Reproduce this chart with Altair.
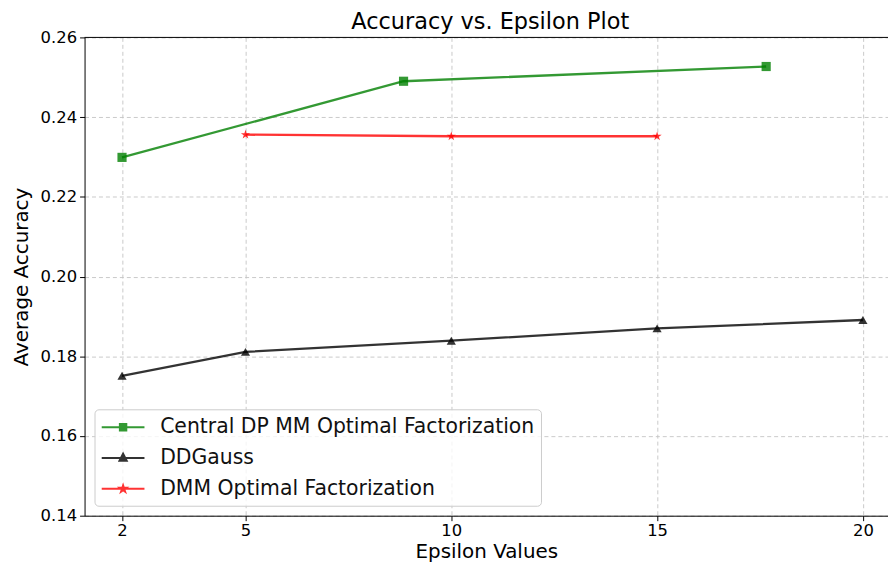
import altair as alt
import pandas as pd

# ---- data ----
series_names = ["Central DP MM Optimal Factorization", "DDGauss", "DMM Optimal Factorization"]
central_eps = [2, 8.84, 17.65]
central_acc = [0.2299, 0.2490, 0.2527]
ddg_eps = [2, 5, 10, 15, 20]
ddg_acc = [0.1751, 0.1811, 0.1839, 0.1870, 0.1891]
dmm_eps = [5, 10, 15]
dmm_acc = [0.2356, 0.2352, 0.2352]
x_ticks = [2, 5, 10, 15, 20]
y_ticks = [0.14, 0.16, 0.18, 0.20, 0.22, 0.24, 0.26]

rows = []
for name, xs, ys in zip(series_names, [central_eps, ddg_eps, dmm_eps], [central_acc, ddg_acc, dmm_acc]):
    for x, y in zip(xs, ys):
        rows.append({"eps": x, "acc": y, "series": name})
df = pd.DataFrame(rows)

line_colors = ["#008000", "#000000", "#ff0000"]
legend_colors = ["#339933", "#333333", "#ff3333"]

W, H = 808, 481

x_enc = alt.X("eps:Q", title="Epsilon Values",
              scale=alt.Scale(domain=[1.09, 20.61], nice=False, zero=False),
              axis=alt.Axis(values=x_ticks, format="d", titlePadding=3, labelPadding=2))
y_enc = alt.Y("acc:Q", title="Average Accuracy",
              scale=alt.Scale(domain=[0.14, 0.26], nice=False, zero=False),
              axis=alt.Axis(values=y_ticks, format=".2f", titlePadding=9, labelPadding=3))
# data-driven (alphabetical) domain for the colour scale, so its hidden legend
# is not merged with the visible fill/stroke/shape legend
color_enc = alt.Color("series:N", sort="ascending", scale=alt.Scale(range=line_colors), legend=None)

base = alt.Chart(df)

lines = base.mark_line(strokeWidth=2.3, opacity=0.8).encode(x=x_enc, y=y_enc, color=color_enc)

star_path = ("M0,-1L0.2245,-0.309L0.951,-0.309L0.363,0.118L0.588,0.809L0,0.382"
             "L-0.588,0.809L-0.363,0.118L-0.951,-0.309L-0.2245,-0.309Z")
marker_shapes = ["square", "triangle-up", star_path]
marker_sizes = [85, 85, 95]
markers = []
for name, shp, sz in zip(series_names, marker_shapes, marker_sizes):
    markers.append(
        base.transform_filter(alt.datum.series == name)
        .mark_point(filled=True, shape=shp, size=sz, opacity=0.8)
        .encode(x=x_enc, y=y_enc, color=color_enc)
    )

# legend symbols: line segment with the marker in its middle
def star(scale, cx):
    pts = [(0, -1), (0.2245, -0.309), (0.951, -0.309), (0.363, 0.118), (0.588, 0.809), (0, 0.382),
           (-0.588, 0.809), (-0.363, 0.118), (-0.951, -0.309), (-0.2245, -0.309)]
    return "M" + "L".join(f"{cx + px * scale:.3f},{py * scale:.3f}" for px, py in pts) + "Z"

legend_shapes = [
    "M-1,0L3,0M0.7,-0.3L1.3,-0.3L1.3,0.3L0.7,0.3Z",
    "M-1,0L3,0M1,-0.4L1.34,0.26L0.66,0.26Z",
    "M-1,0L3,0" + star(0.32, 1),
]

leg = alt.Legend(title=None, orient="bottom-left", offset=10)
legend_layer = base.mark_point(filled=True, size=0).encode(
    x=x_enc, y=y_enc,
    fill=alt.Fill("series:N", scale=alt.Scale(domain=series_names, range=legend_colors), legend=leg),
    stroke=alt.Stroke("series:N", scale=alt.Scale(domain=series_names, range=legend_colors), legend=leg),
    shape=alt.Shape("series:N", scale=alt.Scale(domain=series_names, range=legend_shapes), legend=leg),
)

top_spine = alt.Chart(pd.DataFrame({"edge": ["top"]})).mark_rule(color="black", strokeWidth=1).encode(
    x=alt.value(0), x2=alt.value(W), y=alt.value(0)
)

chart = alt.layer(lines, *markers, legend_layer, top_spine).properties(
    width=W, height=H,
    title=alt.TitleParams("Accuracy vs. Epsilon Plot", fontSize=22.5, fontWeight="normal",
                          offset=3, dy=7, dx=4, anchor="middle", color="black", font="DejaVu Sans"),
    autosize=alt.AutoSizeParams(type="none"),
    padding={"left": 77, "top": 28, "right": 0, "bottom": 47},
).configure(font="DejaVu Sans").configure_view(stroke=None).configure_axis(
    domainColor="black", domainWidth=1, tickColor="black", tickSize=5, tickWidth=1,
    labelFontSize=16.5, labelColor="black", labelFont="DejaVu Sans",
    titleFontSize=20, titleFontWeight="normal", titleColor="black", titleFont="DejaVu Sans",
    gridColor="#c4c4c4", gridDash=[4, 3], gridWidth=0.9,
).configure_legend(
    symbolSize=462, symbolStrokeWidth=2, symbolOpacity=1, labelFontSize=20.5, labelFont="DejaVu Sans",
    labelColor="#111111", labelOffset=36, padding=6, rowPadding=8, labelLimit=1000,
    fillColor="rgba(255,255,255,0.8)", strokeColor="#cccccc", cornerRadius=4,
)

chart.save("out.html", embed_options={"renderer": "svg", "actions": False})
